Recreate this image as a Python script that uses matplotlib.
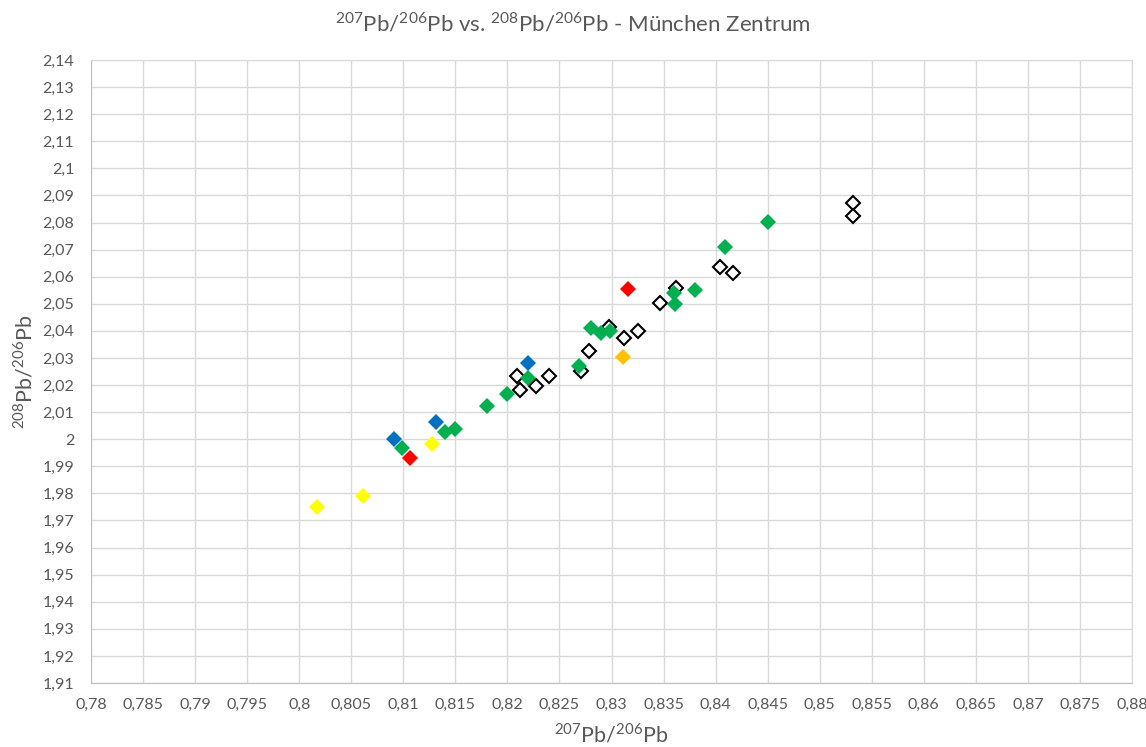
import matplotlib.pyplot as plt
import numpy as np

plt.rcParams['font.family'] = ['Lato', 'DejaVu Sans']
plt.rcParams['mathtext.fontset'] = 'custom'
plt.rcParams['mathtext.rm'] = 'Lato'

# 207Pb/206Pb (x) and 208Pb/206Pb (y) per group
yellow_x = [0.8017, 0.8061, 0.8128]
yellow_y = [1.9750, 1.9790, 1.9981]

blue_x = [0.8091, 0.8131, 0.8220]
blue_y = [2.0000, 2.0063, 2.0281]

red_x = [0.8106, 0.8316]
red_y = [1.9931, 2.0556]

orange_x = [0.8311]
orange_y = [2.0302]

green_x = [0.8099, 0.8140, 0.8150, 0.8180, 0.8200, 0.8220, 0.8269, 0.8280,
           0.8290, 0.8299, 0.8360, 0.8361, 0.8380, 0.8409, 0.8450]
green_y = [1.9966, 2.0028, 2.0038, 2.0123, 2.0168, 2.0226, 2.0269, 2.0409,
           2.0392, 2.0401, 2.0540, 2.0499, 2.0550, 2.0709, 2.0802]

open_x = [0.8209, 0.8212, 0.8227, 0.8240, 0.8271, 0.8278, 0.8298, 0.8312,
          0.8325, 0.8347, 0.8362, 0.8404, 0.8417, 0.8532, 0.8532]
open_y = [2.0234, 2.0183, 2.0198, 2.0232, 2.0250, 2.0325, 2.0416, 2.0373,
          2.0398, 2.0503, 2.0559, 2.0637, 2.0613, 2.0871, 2.0824]

x_ticks = np.round(np.arange(0.78, 0.8801, 0.005), 3)
y_ticks = np.round(np.arange(1.91, 2.1401, 0.01), 2)

fig = plt.figure(figsize=(11.46, 7.47), dpi=100)
ax = fig.add_axes([0.0794, 0.0857, 0.9084, 0.834])

ms = 8
ax.plot(open_x, open_y, 'D', ms=ms - 1, mfc='white', mec='black', mew=1.5, ls='none', zorder=3)
ax.plot(green_x, green_y, 'D', ms=ms, color='#00B050', mew=0, ls='none', zorder=4)
ax.plot(blue_x, blue_y, 'D', ms=ms, color='#0070C0', mew=0, ls='none', zorder=4)
ax.plot(red_x, red_y, 'D', ms=ms, color='#FF0000', mew=0, ls='none', zorder=4)
ax.plot(orange_x, orange_y, 'D', ms=ms, color='#FFC000', mew=0, ls='none', zorder=4)
ax.plot(yellow_x, yellow_y, 'D', ms=ms, color='#FFFF00', mew=0, ls='none', zorder=4)

ax.set_xlim(0.78, 0.88)
ax.set_ylim(1.91, 2.14)
ax.set_xticks(x_ticks)
ax.set_yticks(y_ticks)
ax.set_xticklabels([f"{v:g}".replace('.', ',') for v in x_ticks])
ax.set_yticklabels([f"{v:g}".replace('.', ',') for v in y_ticks])
ax.tick_params(length=0, labelsize=11.5, colors='#595959')
ax.tick_params(axis='y', pad=12)
ax.tick_params(axis='x', pad=11)

ax.grid(True, color='#d9d9d9', lw=1)
ax.set_axisbelow(True)
for s in ax.spines.values():
    s.set_color('#d9d9d9')
ax.spines['left'].set_color('#bfbfbf')
ax.spines['bottom'].set_color('#bfbfbf')

ax.set_xlabel(r'$^{207}$Pb/$^{206}$Pb', fontsize=15.5, color='#595959', labelpad=7)
ax.set_ylabel(r'$^{208}$Pb/$^{206}$Pb', fontsize=15.5, color='#595959', labelpad=5)
fig.suptitle(r'$^{207}$Pb/$^{206}$Pb vs. $^{208}$Pb/$^{206}$Pb - München Zentrum',
             fontsize=16, color='#595959', y=0.985)

fig.savefig('out.png', dpi=100)
